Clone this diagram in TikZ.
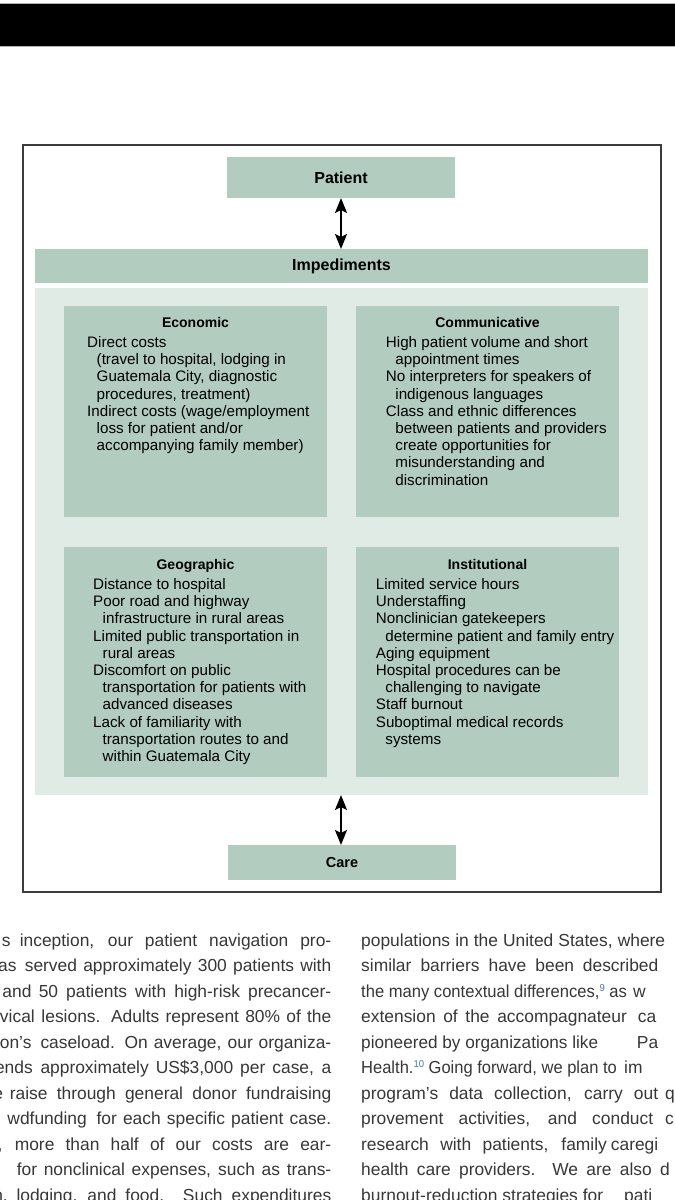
\documentclass[tikz,border=0pt]{standalone}
\usepackage{fontspec}
\usepackage{graphicx}
\setmainfont{Liberation Sans}
\usetikzlibrary{arrows.meta}
\definecolor{sage}{RGB}{178,205,191}
\definecolor{pale}{RGB}{225,235,229}
\definecolor{framegray}{RGB}{60,60,60}
\definecolor{pagetext}{RGB}{55,55,55}
\definecolor{supblue}{RGB}{70,120,165}
\newsavebox\jlbox
\newcommand\jl[2]{\sbox\jlbox{#2}\ifdim\wd\jlbox>#1pt\relax\resizebox{#1pt}{\height}{\usebox\jlbox}\else\hbox to #1pt{\spaceskip=.28em plus 1fil\relax #2}\fi}
\newcommand\ind{\hspace*{9.5pt}}
\newcommand\sref[1]{\raisebox{6pt}{\fontsize{10}{10}\selectfont\color{supblue}#1}}
\begin{document}
\begin{tikzpicture}[x=1pt,y=-1pt,
  box/.style={fill=sage,draw=none,inner sep=0pt,outer sep=0pt,anchor=north west},
  headlbl/.style={font=\fontsize{16}{16}\selectfont\bfseries},
  cathead/.style={anchor=base,inner sep=0pt,font=\fontsize{14}{14}\selectfont\bfseries},
  catbody/.style={anchor=base west,inner sep=0pt,font=\fontsize{15.2}{17.2}\selectfont},
  pg/.style={inner sep=0pt,text=pagetext,font=\fontsize{17.4}{20}\selectfont},
  pgL/.style={pg,anchor=base east},
  pgR/.style={pg,anchor=base west},
  dbl/.style={{Stealth[length=15pt,width=12pt,inset=3pt]}-{Stealth[length=15pt,width=12pt,inset=3pt]},line width=2.2pt}
]
\useasboundingbox (0,0) rectangle (675,1200);
\fill[white] (0,0) rectangle (675,1200);
% header bar
\fill[black] (0,3.5) rectangle (675,45.5);
\draw[gray!60,line width=0.8pt] (0,3) -- (675,3);
\draw[gray!60,line width=0.8pt] (0,46) -- (675,46);
% figure frame
\node[draw=framegray,line width=1.5pt,inner sep=0pt,anchor=north west,minimum width=638pt,minimum height=747pt] (frame) at (22,144) {};
% boxes
\node[box,minimum width=228pt,minimum height=41pt,headlbl] (patient) at (227,157) {Patient};
\node[box,minimum width=613pt,minimum height=34pt,headlbl] (imped) at (35,249) {Impediments};
\node[box,fill=pale,minimum width=613pt,minimum height=507pt] (panel) at (35,288) {};
\node[box,minimum width=263pt,minimum height=211pt] (econ) at (64,306) {};
\node[box,minimum width=263pt,minimum height=211pt] (comm) at (356,306) {};
\node[box,minimum width=263pt,minimum height=230pt] (geo) at (64,547) {};
\node[box,minimum width=263pt,minimum height=230pt] (inst) at (356,547) {};
\node[box,minimum width=228pt,minimum height=35pt,font=\fontsize{14.5}{14.5}\selectfont\bfseries] (care) at (228,845) {Care};
% arrows
\draw[dbl] (patient.south) -- (patient.south |- imped.north);
\draw[dbl] (patient.south |- panel.south) -- (patient.south |- care.north);
% category titles
\node[cathead] (econT) at (195.5,327) {Economic};
\node[cathead] (commT) at (487.5,327) {Communicative};
\node[cathead] (geoT) at (195.5,569) {Geographic};
\node[cathead] (instT) at (487.5,569) {Institutional};
% category bodies
\node[catbody] (econB) at (87,347.5) {\parbox[t]{300pt}{Direct costs\\
\ind(travel to hospital, lodging in\\
\ind Guatemala City, diagnostic\\
\ind procedures, treatment)\\
Indirect costs (wage/employment\\
\ind loss for patient and/or\\
\ind accompanying family member)}};
\node[catbody] (commB) at (385.7,347.5) {\parbox[t]{300pt}{High patient volume and short\\
\ind appointment times\\
No interpreters for speakers of\\
\ind indigenous languages\\
Class and ethnic differences\\
\ind between patients and providers\\
\ind create opportunities for\\
\ind misunderstanding and\\
\ind discrimination}};
\node[catbody] (geoB) at (93,589.5) {\parbox[t]{300pt}{Distance to hospital\\
Poor road and highway\\
\ind infrastructure in rural areas\\
Limited public transportation in\\
\ind rural areas\\
Discomfort on public\\
\ind transportation for patients with\\
\ind advanced diseases\\
Lack of familiarity with\\
\ind transportation routes to and\\
\ind within Guatemala City}};
\node[catbody] (instB) at (375.7,589.5) {\parbox[t]{300pt}{Limited service hours\\
Understaffing\\
Nonclinician gatekeepers\\
\ind determine patient and family entry\\
Aging equipment\\
Hospital procedures can be\\
\ind challenging to navigate\\
Staff burnout\\
Suboptimal medical records\\
\ind systems}};
% page text, left column
\node[pgL] (L1a) at (10.7,946) {s};
\node[pgL] (L1) at (331.5,946) {\jl{311.5}{inception, our patient navigation pro-}};
\node[pgL] (L2a) at (16.7,971.5) {as};
\node[pgL] (L2) at (331.5,971.5) {\jl{306.5}{served approximately 300 patients with}};
\node[pgL] (L3a) at (31.7,997) {and};
\node[pgL] (L3) at (331.5,997) {\jl{292.5}{50 patients with high-risk precancer-}};
\node[pgL] (L4a) at (35,1022.5) {vical};
\node[pgL] (L4) at (331.5,1022.5) {\jl{289.8}{lesions. Adults represent 80\% of the}};
\node[pgL] (L5a) at (31.7,1048) {on’s};
\node[pgL] (L5) at (331.5,1048) {\jl{290.8}{caseload. On average, our organiza-}};
\node[pgL] (L6a) at (33,1073.5) {ends};
\node[pgL] (L6) at (331.5,1073.5) {\jl{290.8}{approximately US\$3,000 per case, a}};
\node[pgL] (L7a) at (3.3,1099) {e};
\node[pgL] (L7) at (331.5,1099) {\jl{321.5}{raise through general donor fundraising}};
\node[pgL] (L8a) at (87,1124.5) {wdfunding};
\node[pgL] (L8) at (331.5,1124.5) {\jl{234.8}{for each specific patient case.}};
\node[pgL] (L9a) at (2.7,1150) {,};
\node[pgL] (L9) at (331.5,1150) {\jl{316.5}{more than half of our costs are ear-}};
\node[pgL] (L10) at (331.5,1175.5) {\jl{314.5}{for nonclinical expenses, such as trans-}};
\node[pgL] (L11a) at (8,1201) {n,};
\node[pgL] (L11) at (331.5,1201) {\jl{314.8}{lodging, and food. Such expenditures}};
% page text, right column
\node[pgR] (R1) at (361,946) {\jl{304}{populations in the United States, where}};
\node[pgR] (R2) at (361,971.5) {\jl{213}{similar barriers have been}};
\node[pgR] (R2b) at (582.7,971.5) {described};
\node[pgR] (R3) at (361,997) {\jl{265.7}{the many contextual differences,\sref{9} as}};
\node[pgR] (R3b) at (633,997) {w};
\node[pgR] (R4) at (361,1022.5) {\jl{265.7}{extension of the accompagnateur}};
\node[pgR] (R4b) at (637.7,1022.5) {ca};
\node[pgR] (R5) at (361,1048) {\jl{237}{pioneered by organizations like}};
\node[pgR] (R5b) at (636.7,1048) {Pa};
\node[pgR] (R6) at (361,1073.5) {\jl{255.7}{Health.\sref{10} Going forward, we plan to}};
\node[pgR] (R6b) at (624,1073.5) {im};
\node[pgR] (R7) at (361,1099) {\jl{297}{program’s data collection, carry out}};
\node[pgR] (R7b) at (665,1099) {q};
\node[pgR] (R8) at (361,1124.5) {\jl{292}{provement activities, and conduct}};
\node[pgR] (R8b) at (665,1124.5) {c};
\node[pgR] (R9) at (361,1150) {\jl{245.7}{research with patients, family}};
\node[pgR] (R9b) at (610.7,1150) {caregi};
\node[pgR] (R10) at (361,1175.5) {\jl{290.7}{health care providers. We are also}};
\node[pgR] (R10b) at (660,1175.5) {d};
\node[pgR] (R11) at (361,1201) {\jl{242}{burnout-reduction strategies for}};
\node[pgR] (R11b) at (624,1201) {pati};
\end{tikzpicture}
\end{document}
